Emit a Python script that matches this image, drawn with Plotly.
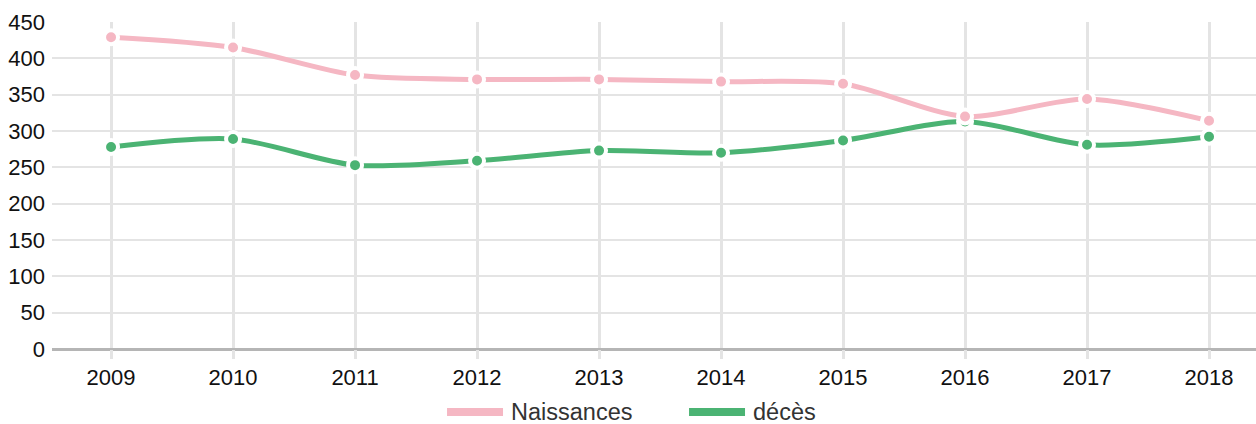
import plotly.graph_objects as go

# données
annees = [2009, 2010, 2011, 2012, 2013, 2014, 2015, 2016, 2017, 2018]
naissances = [429, 415, 377, 371, 371, 368, 365, 320, 344, 314]
deces = [278, 289, 253, 259, 273, 270, 287, 313, 281, 292]

rose = "#F5B7C3"
vert = "#4BB373"
grille = "#E4E4E4"

fig = go.Figure()

# décès d'abord pour que les points roses passent au-dessus
for nom, valeurs, couleur in [("décès", deces, vert), ("Naissances", naissances, rose)]:
    fig.add_trace(go.Scatter(
        x=annees, y=valeurs, name=nom,
        mode="lines+markers",
        line=dict(color=couleur, width=5, shape="spline", smoothing=0.8),
        marker=dict(size=14, color=couleur, line=dict(color="white", width=4)),
        showlegend=False,
        cliponaxis=False,
    ))

# légende dessinée à la main (traits larges comme dans l'original)
legende = [("Naissances", rose, 0.3281), ("décès", vert, 0.5291)]
for texte, couleur, x0 in legende:
    fig.add_shape(type="line", xref="paper", yref="paper",
                  x0=x0, x1=x0 + 0.0465, y0=-0.193, y1=-0.193,
                  line=dict(color=couleur, width=8))
    fig.add_annotation(xref="paper", yref="paper", x=x0 + 0.053, y=-0.193,
                       text=texte, showarrow=False, xanchor="left", yanchor="middle",
                       xshift=-2,
                       font=dict(size=23.5, color="#333333", family="Liberation Sans, Arial"))

fig.update_layout(
    width=1256, height=424,
    margin=dict(l=52, r=0, t=22, b=75),
    plot_bgcolor="white", paper_bgcolor="white",
    font=dict(family="Liberation Sans, Arial", size=22, color="#111111"),
    xaxis=dict(range=[2008.516, 2018.385], tickmode="linear", tick0=2009, dtick=1,
               showgrid=True, gridcolor=grille, gridwidth=2.5,
               ticks="outside", ticklen=9, tickcolor=grille, tickwidth=2.5,
               zeroline=False, showline=False),
    yaxis=dict(range=[0, 450], tickmode="linear", tick0=0, dtick=50,
               showgrid=True, gridcolor=grille, gridwidth=2,
               zeroline=True, zerolinecolor="#B5B5B5", zerolinewidth=3,
               ticks="", ticklabelstandoff=6, showline=False),
)

# la page a une marge de 8 px par défaut : on la supprime
fig.write_html("out.html", config={"displayModeBar": False},
               post_script="document.body.style.margin='0px';")
